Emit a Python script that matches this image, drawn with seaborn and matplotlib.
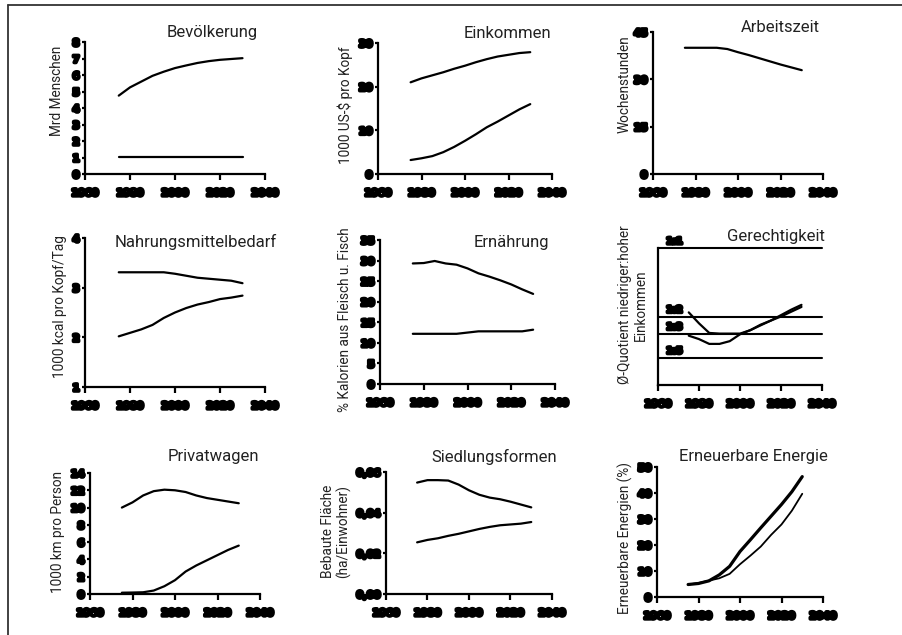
import matplotlib
matplotlib.use("Agg")
import matplotlib.pyplot as plt
import matplotlib.patheffects as pe
from matplotlib.lines import Line2D
import seaborn as sns
import pandas as pd

sns.set_theme(style="ticks")
plt.rcParams['font.family'] = ['Roboto', 'DejaVu Sans']

# ---------------- data ----------------
years = [1975, 1980, 1985, 1990, 1995, 2000, 2005, 2010, 2015, 2020, 2025, 2030]
x_ticks = [1960, 1980, 2000, 2020, 2040]
x_ticklabels = ["1960", "1980", "2000", "2020", "2040"]

bev_welt = [4.75, 5.25, 5.6, 5.95, 6.2, 6.42, 6.58, 6.73, 6.84, 6.92, 6.97, 7.02]
bev_ind = [1.05, 1.05, 1.05, 1.05, 1.05, 1.05, 1.05, 1.05, 1.05, 1.05, 1.05, 1.05]

ek_ind = [21.0, 21.9, 22.6, 23.3, 24.1, 24.8, 25.6, 26.3, 26.9, 27.3, 27.7, 27.9]
ek_ent = [3.2, 3.6, 4.1, 5.0, 6.2, 7.6, 9.1, 10.7, 12.0, 13.4, 14.8, 16.0]

az = [40.0, 40.0, 40.0, 40.0, 39.6, 38.6, 37.7, 36.7, 35.7, 34.7, 33.8, 32.9]

nm_ind = [3.31, 3.31, 3.31, 3.31, 3.31, 3.28, 3.24, 3.20, 3.18, 3.16, 3.14, 3.09]
nm_ent = [2.02, 2.09, 2.16, 2.25, 2.39, 2.50, 2.59, 2.66, 2.71, 2.77, 2.80, 2.84]

er_ind = [29.3, 29.4, 29.9, 29.3, 29.0, 28.1, 26.9, 26.1, 25.2, 24.2, 23.0, 21.9]
er_ent = [12.2, 12.2, 12.2, 12.2, 12.2, 12.5, 12.8, 12.8, 12.8, 12.8, 12.8, 13.2]

ge_a = [0.53, 0.45, 0.38, 0.375, 0.375, 0.375, 0.40, 0.435, 0.47, 0.51, 0.55, 0.585]
ge_b = [0.36, 0.335, 0.30, 0.30, 0.32, 0.37, 0.40, 0.44, 0.47, 0.50, 0.535, 0.57]
ge_levels = [1.0, 0.5, 0.375, 0.2]
ge_labels = ["1:1", "1:2", "1:3", "1:5"]

pw_ind = [10.0, 10.6, 11.4, 11.9, 12.07, 12.0, 11.8, 11.4, 11.1, 10.9, 10.7, 10.5]
pw_ent = [0.15, 0.17, 0.2, 0.4, 0.9, 1.6, 2.6, 3.3, 3.9, 4.5, 5.1, 5.6]

sf_ind = [0.0548, 0.056, 0.056, 0.0558, 0.0538, 0.051, 0.0488, 0.0474, 0.0466, 0.0454, 0.044, 0.0426]
sf_ent = [0.0254, 0.0266, 0.0274, 0.0286, 0.0296, 0.0308, 0.032, 0.033, 0.0338, 0.0342, 0.0346, 0.0354]

ee_a = [4.8, 5.2, 6.2, 8.5, 11.8, 17.5, 22.0, 26.6, 31.1, 35.6, 40.5, 46.3]
ee_b = [4.8, 5.4, 6.3, 7.2, 8.9, 12.6, 15.9, 19.4, 23.9, 27.9, 33.2, 39.7]

titles = ["Bevölkerung", "Einkommen", "Arbeitszeit", "Nahrungsmittelbedarf", "Ernährung",
          "Gerechtigkeit", "Privatwagen", "Siedlungsformen", "Erneuerbare Energie"]
ylabels = ["Mrd Menschen", "1000 US-$ pro Kopf", "Wochenstunden", "1000 kcal pro Kopf/Tag",
           "% Kalorien aus Fleisch u. Fisch", "Ø-Quotient niedriger:hoher\nEinkommen",
           "1000 km pro Person", "Bebaute Fläche\n(ha/Einwohner)", "Erneuerbare Energien (%)"]

y_ticks = [
    [0, 1, 2, 3, 4, 5, 6, 7, 8],
    [0, 10, 20, 30],
    [0, 15, 30, 45],
    [1, 2, 3, 4],
    [0, 5, 10, 15, 20, 25, 30, 35],
    [],
    [0, 2, 4, 6, 8, 10, 12, 14],
    [0, 0.02, 0.04, 0.06],
    [0, 10, 20, 30, 40, 50],
]
y_ticklabels = [
    ["0", "1", "2", "3", "4", "5", "6", "7", "8"],
    ["0", "10", "20", "30"],
    ["0", "15", "30", "45"],
    ["1", "2", "3", "4"],
    ["0", "5", "10", "15", "20", "25", "30", "35"],
    [],
    ["0", "2", "4", "6", "8", "10", "12", "14"],
    ["0,00", "0,02", "0,04", "0,06"],
    ["0", "10", "20", "30", "40", "50"],
]
series = [
    [bev_welt, bev_ind],
    [ek_ind, ek_ent],
    [az],
    [nm_ind, nm_ent],
    [er_ind, er_ent],
    [ge_a, ge_b],
    [pw_ind, pw_ent],
    [sf_ind, sf_ent],
    [ee_a, ee_b],
]

# ---------------- layout (pixel boxes: left, bottom, right, top) ----------------
W, H = 903, 635
boxes = [
    (85, 174, 265, 42), (378, 174, 552, 43), (653, 174, 823, 32),
    (85, 387, 265, 238), (380, 384, 555, 240), (658, 385, 822, 248),
    (90, 594, 260, 473), (386, 594, 552, 472), (657, 597, 823, 467),
]
title_pos = [(212, 33), (507, 33), (780, 28), (196, 242), (511, 242), (776, 236),
             (213, 457), (494, 457), (753, 457)]
ylabel_pos = [(57, 91), (345, 105), (625, 84), (60, 307), (345, 320), (633, 305),
              (58, 532), (336, 531), (625, 538)]

fig = plt.figure(figsize=(W / 100, H / 100), dpi=100)
fig.patch.set_facecolor("white")

blob = [pe.withStroke(linewidth=2.6, foreground="black")]

for i in range(9):
    l, b, r, t = boxes[i]
    ax = fig.add_axes([l / W, 1 - b / H, (r - l) / W, (b - t) / H])
    ax.set_facecolor("none")
    for k, vals in enumerate(series[i]):
        lw = 1.6
        if i == 8:
            lw = 2.3 if k == 0 else 1.3
        df = pd.DataFrame({"Jahr": years, "Wert": vals})
        sns.lineplot(data=df, x="Jahr", y="Wert", ax=ax, color="black", lw=lw,
                     legend=False, clip_on=False)
    ax.set_xlim(1960, 2040)
    if i == 5:
        ax.set_ylim(0, 1.0)
        for lev, lab in zip(ge_levels, ge_labels):
            ax.axhline(lev, color="black", lw=1.5, clip_on=False)
            ax.annotate(lab, xy=(0, lev), xycoords=("axes fraction", "data"),
                        xytext=(6, 1.5), textcoords="offset points", ha="left", va="bottom",
                        fontsize=6.5, fontweight="bold", color="black",
                        family="DejaVu Sans", path_effects=blob)
        ax.set_yticks([])
    else:
        yt = y_ticks[i]
        ax.set_ylim(yt[0], yt[-1])
        ax.set_yticks(yt)
        ax.set_yticklabels(y_ticklabels[i])
    ax.set_xticks(x_ticks)
    ax.set_xticklabels(x_ticklabels)
    ax.set_xlabel("")
    ax.set_ylabel("")
    sns.despine(ax=ax)
    for sp in ("left", "bottom"):
        ax.spines[sp].set_linewidth(1.6)
        ax.spines[sp].set_color("black")
    ax.tick_params(axis="x", length=4, width=1.6, colors="black", pad=6, labelsize=7)
    ax.tick_params(axis="y", length=2, width=1.6, colors="black", pad=2, labelsize=7)
    for lab in ax.get_xticklabels() + ax.get_yticklabels():
        lab.set_fontweight("bold")
        lab.set_family("DejaVu Sans")
        lab.set_path_effects(blob)
    tx, ty = title_pos[i]
    fig.text(tx / W, 1 - ty / H, titles[i], ha="center", va="center", fontsize=12,
             color="#222222")
    yx, yy = ylabel_pos[i]
    fig.text(yx / W, 1 - yy / H, ylabels[i], ha="center", va="center", rotation=90,
             fontsize=9.8, color="#222222", linespacing=1.1, multialignment="center")

# frame lines (left and top)
fig.add_artist(Line2D([8 / W, 8 / W], [0, 1 - 5 / H], color="#333333", lw=1.3))
fig.add_artist(Line2D([8 / W, 1], [1 - 5 / H, 1 - 5 / H], color="#333333", lw=1.3))

fig.savefig("out.png", dpi=100)
